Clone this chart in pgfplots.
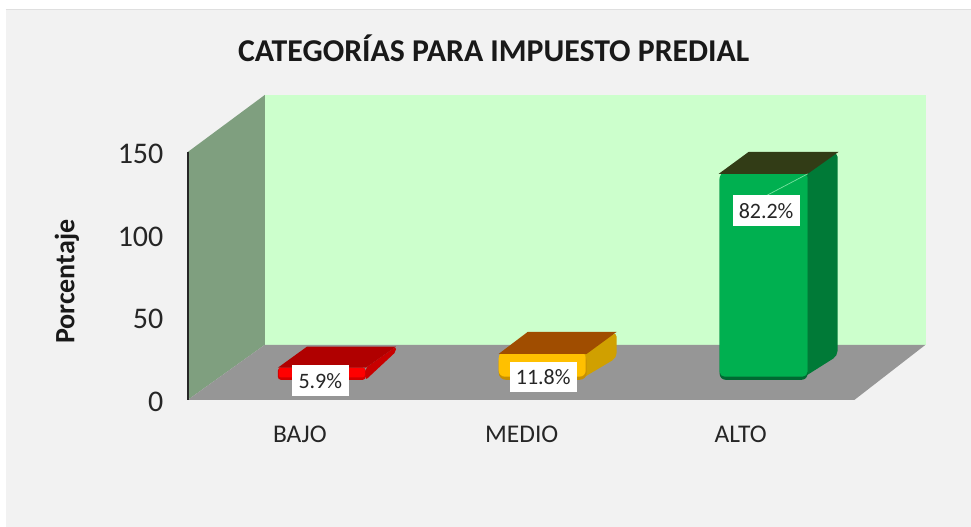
\documentclass[border=0pt]{standalone}
\usepackage{fontspec}
\setmainfont{Carlito}
\usepackage{pgfplots}
\pgfplotsset{compat=1.18}
\definecolor{panel}{HTML}{F2F2F2}
\definecolor{wallback}{HTML}{CCFFCC}
\definecolor{wallleft}{HTML}{7F9F7F}
\definecolor{floorc}{HTML}{969696}
\definecolor{rfront}{HTML}{FF0000}
\definecolor{rdark}{HTML}{D00000}
\definecolor{rside}{HTML}{C80000}
\definecolor{rtop}{HTML}{B00000}
\definecolor{yfront}{HTML}{FFC000}
\definecolor{ydark}{HTML}{C89000}
\definecolor{yside}{HTML}{D0A000}
\definecolor{ytop}{HTML}{A04D00}
\definecolor{gfront}{HTML}{00B050}
\definecolor{gdark}{HTML}{006932}
\definecolor{gside}{HTML}{007A37}
\definecolor{gtop}{HTML}{323C16}
\definecolor{gline}{HTML}{78E1A0}
\begin{document}
\begin{tikzpicture}[x=1pt,y=1pt]
\fill[white] (0,0) rectangle (971,527);
\fill[panel] (6,0) rectangle (971,517);
\draw[gray!25,line width=1pt] (6,517) -- (971,517);
\begin{axis}[
  at={(188pt,127pt)}, anchor=origin,
  scale only axis, width=667pt, height=248pt,
  xmin=188, xmax=855, ymin=0, ymax=150,
  clip=false,
  axis line style={draw=none},
  major tick length=0pt,
  xtick={300,522,741},
  xticklabels={BAJO,MEDIO,ALTO},
  ytick={0,50,100,150},
  /pgf/number format/assume math mode=true,
  tick label style={text=black!85},
  xticklabel style={font=\fontsize{25.5}{28}\selectfont, yshift=-35pt, anchor=center},
  yticklabel style={font=\fontsize{30}{33}\selectfont, anchor=east, xshift=-21pt, yshift=-2pt},
]
% back wall, left wall, floor
\addplot[fill=wallback,draw=none,forget plot] coordinates {(265,33.3) (926,33.3) (926,184.5) (265,184.5)} -- cycle;
\addplot[fill=wallleft,draw=none,forget plot] coordinates {(188,0) (265,33.3) (265,184.5) (188,150)} -- cycle;
\addplot[fill=floorc,draw=none,forget plot] coordinates {(188,0) (265,33.3) (926,33.3) (855,0)} -- cycle;
\addplot[black!85,line width=1.3pt,forget plot] coordinates {(188,0) (188,150)};
% BAJO
\addplot[fill=rside,draw=none,rounded corners=2pt,forget plot] coordinates {(366,12.1) (396,29) (396,32.1) (366,19.4)} -- cycle;
\addplot[fill=rdark,draw=none,rounded corners=3pt,forget plot] coordinates {(278,12.1) (366,12.1) (366,19.4) (278,19.4)} -- cycle;
\addplot[fill=rfront,draw=none,rounded corners=2pt,forget plot] coordinates {(279,13.6) (365,13.6) (365,19.4) (279,19.4)} -- cycle;
\addplot[fill=rtop,draw=none,forget plot] coordinates {(278,19.4) (307,32.1) (396,32.1) (366,19.4)} -- cycle;
% MEDIO
\addplot[fill=yside,draw=none,rounded corners=5pt,forget plot] coordinates {(580,12.1) (617,25.4) (617,41.1) (580,27.8)} -- cycle;
\addplot[fill=ydark,draw=none,rounded corners=7pt,forget plot] coordinates {(499,12.1) (587,12.1) (587,27.8) (499,27.8)} -- cycle;
\addplot[fill=yfront,draw=none,rounded corners=6pt,forget plot] coordinates {(499,14) (586,14) (586,29) (499,29)} -- cycle;
\addplot[fill=ytop,draw=none,forget plot] coordinates {(499,27.8) (528,41.1) (617,41.1) (587,27.8)} -- cycle;
% ALTO
\addplot[fill=gside,draw=none,rounded corners=5pt,forget plot] coordinates {(800,12.1) (838,26.6) (838,150) (800,136.7)} -- cycle;
\addplot[fill=gdark,draw=none,rounded corners=6pt,forget plot] coordinates {(720,12.1) (808,12.1) (808,136.7) (720,136.7)} -- cycle;
\addplot[fill=gfront,draw=none,rounded corners=5pt,forget plot] coordinates {(720,14) (808,14) (808,137.5) (720,137.5)} -- cycle;
\addplot[fill=gtop,draw=none,forget plot] coordinates {(719,136.7) (749,150) (839,150) (808,136.7)} -- cycle;
\addplot[gline,line width=0.7pt,forget plot] coordinates {(765,123) (808,136.7)};
% data labels
\node[fill=white,inner sep=0pt,minimum width=57pt,minimum height=31pt,text=black!85,font=\fontsize{22}{24}\selectfont] at (axis cs:320.5,11.5) {5.9\%};
\node[fill=white,inner sep=0pt,minimum width=67pt,minimum height=30pt,text=black!85,font=\fontsize{22}{24}\selectfont] at (axis cs:543.5,13.9) {11.8\%};
\node[fill=white,inner sep=0pt,minimum width=67pt,minimum height=31pt,text=black!85,font=\fontsize{22}{24}\selectfont] at (axis cs:766.5,114.3) {82.2\%};
% titles
\node[font=\bfseries\fontsize{31.8}{34}\selectfont,text=black!90] at (axis cs:494,212.5) {CATEGORÍAS PARA IMPUESTO PREDIAL};
\node[font=\bfseries\fontsize{28}{30}\selectfont,text=black!90,rotate=90] at (axis cs:67,71.4) {Porcentaje};
\end{axis}
\end{tikzpicture}
\end{document}
